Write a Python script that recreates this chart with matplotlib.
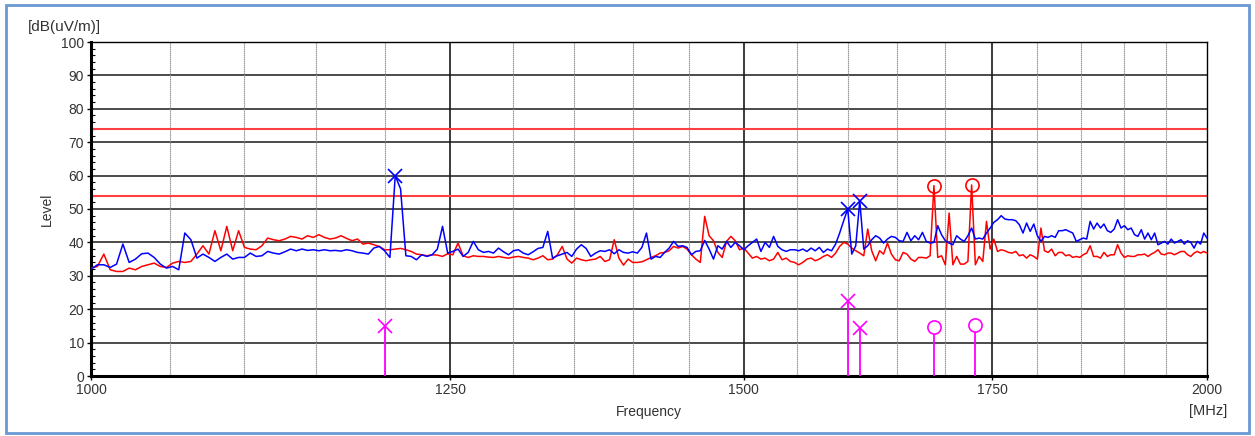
import numpy as np
import matplotlib
matplotlib.use("Agg")
import matplotlib.pyplot as plt
from matplotlib.patches import Rectangle
from matplotlib.ticker import FixedLocator, MultipleLocator, NullFormatter, NullLocator

# sweep grid [MHz]
freq = np.arange(1000, 2001, 4)

# horizontal polarisation sweep [dB(uV/m)]
level_hor = [
    32.0, 33.3, 33.3, 32.5, 33.5,  39.5, 34.0, 35.0, 36.6, 36.8,
    35.5, 33.5, 32.3, 32.8, 31.8,  42.8, 40.8, 35.3, 36.5, 35.5,
    34.3, 35.5, 36.5, 35.0, 35.5,  35.5, 36.8, 35.8, 36.0, 37.3,
    36.8, 36.5, 37.2, 38.0, 37.5,  38.0, 37.6, 37.8, 37.5, 37.8,
    37.5, 37.6, 37.4, 37.8, 37.5,  37.0, 36.8, 36.5, 38.3, 38.8,
    37.5, 35.5, 60.0, 56.0, 36.0,  35.8, 34.8, 36.3, 35.8, 36.3,
    38.0, 44.8, 36.8, 37.3, 38.0,  35.8, 37.0, 40.3, 37.8, 37.0,
    37.3, 36.8, 38.3, 37.2, 36.3,  37.5, 37.8, 36.8, 36.3, 37.2,
    38.2, 38.5, 43.3, 35.3, 36.0,  36.5, 37.0, 35.8, 38.0, 39.3,
    38.2, 35.8, 36.8, 37.5, 37.3,  37.8, 36.6, 37.8, 37.0, 36.8,
    37.2, 36.8, 38.5, 42.8, 35.0,  35.8, 35.5, 37.0, 38.3, 40.3,
    38.8, 39.0, 38.5, 36.3, 37.3,  37.5, 40.6, 38.0, 35.0, 39.0,
    38.0, 40.3, 38.5, 40.0, 39.0,  37.8, 39.0, 40.0, 41.0, 37.3,
    40.0, 38.5, 41.8, 38.8, 37.8,  37.3, 37.8, 37.8, 37.5, 38.0,
    37.3, 38.3, 37.5, 38.5, 37.0,  38.0, 37.5, 39.5, 42.8, 46.5,
    50.0, 36.5, 39.0, 52.5, 38.0,  39.0, 40.8, 42.0, 41.3, 39.8,
    41.0, 41.8, 41.5, 40.5, 40.3,  43.0, 40.5, 42.0, 40.8, 43.0,
    40.3, 39.8, 40.0, 45.0, 42.3,  40.5, 39.8, 39.3, 42.0, 41.0,
    40.3, 42.0, 44.3, 41.0, 41.3,  41.0, 42.8, 44.3, 46.0, 46.8,
    48.0, 47.0, 46.8, 46.8, 46.5,  45.3, 42.8, 45.8, 43.3, 45.5,
    42.0, 40.3, 41.8, 41.5, 42.0,  41.5, 43.5, 43.5, 43.8, 43.3,
    42.8, 40.3, 40.8, 41.3, 41.0,  46.3, 44.0, 45.8, 44.3, 45.5,
    43.5, 43.0, 44.0, 46.8, 44.3,  45.0, 43.8, 44.3, 42.3, 41.8,
    43.8, 41.0, 42.8, 40.8, 42.8,  39.3, 39.8, 40.3, 39.5, 41.0,
    39.8, 40.3, 40.8, 39.5, 40.5,  40.0, 38.3, 40.3, 39.5, 42.8,
    41.3,
]

# vertical polarisation sweep [dB(uV/m)]
level_ver = [
    32.3, 32.8, 36.5, 31.8, 31.3,  31.3, 32.3, 31.8, 32.8, 33.3,
    33.8, 32.8, 32.5, 33.8, 34.3,  34.0, 34.3, 36.5, 39.0, 36.5,
    43.5, 37.5, 44.8, 37.5, 43.5,  38.5, 38.0, 37.8, 39.0, 41.3,
    40.8, 40.5, 41.0, 41.8, 41.5,  41.0, 42.0, 41.5, 42.3, 41.5,
    41.0, 41.3, 42.0, 41.2, 40.5,  41.0, 39.5, 39.8, 39.3, 38.8,
    37.8, 37.8, 38.0, 38.2, 37.8,  37.3, 36.5, 36.3, 36.0, 36.3,
    36.2, 35.8, 36.6, 36.3, 39.8,  36.0, 35.5, 36.0, 35.8, 35.8,
    35.6, 35.5, 35.8, 35.5, 35.3,  35.6, 35.8, 35.5, 35.3, 34.8,
    35.3, 36.0, 34.8, 35.0, 36.3,  38.8, 35.0, 33.8, 35.3, 34.8,
    34.5, 34.8, 35.0, 35.8, 34.3,  34.8, 40.8, 35.3, 33.2, 35.0,
    34.0, 34.0, 34.2, 34.8, 35.5,  36.0, 36.8, 37.0, 37.5, 38.8,
    38.3, 38.8, 38.0, 36.3, 35.0,  34.0, 47.8, 42.0, 40.5, 37.0,
    35.5, 40.3, 41.8, 40.5, 37.8,  38.3, 36.8, 35.3, 35.8, 35.0,
    35.3, 34.5, 35.0, 37.0, 34.8,  35.3, 34.3, 34.0, 33.3, 34.0,
    35.0, 35.3, 34.5, 35.0, 35.8,  36.3, 35.5, 36.8, 38.8, 40.0,
    39.5, 38.3, 37.5, 36.8, 36.0,  44.0, 37.5, 34.5, 37.5, 36.5,
    39.8, 36.5, 34.8, 34.5, 37.0,  36.5, 35.0, 34.3, 35.5, 35.5,
    35.3, 36.0, 57.0, 35.5, 36.0,  33.3, 48.8, 33.3, 35.8, 33.5,
    33.5, 34.3, 57.2, 33.3, 35.8,  34.3, 46.3, 38.0, 41.0, 37.3,
    37.8, 37.5, 37.0, 36.8, 37.3,  36.0, 36.3, 35.3, 36.3, 35.8,
    35.0, 44.3, 37.5, 37.0, 38.0,  36.0, 37.0, 37.0, 36.0, 36.3,
    35.5, 35.8, 35.5, 36.3, 36.8,  39.0, 35.8, 35.8, 35.3, 37.0,
    35.8, 36.3, 36.3, 39.3, 36.8,  35.5, 36.0, 35.8, 35.8, 36.3,
    36.3, 36.5, 35.8, 36.5, 37.0,  37.8, 36.5, 36.3, 36.8, 36.8,
    36.3, 36.8, 37.3, 37.3, 36.3,  35.8, 36.8, 37.3, 36.8, 37.3,
    36.8,
]

# peak markers on the sweeps
pk_hor_freq = [1208, 1600, 1612]
pk_hor_level = [60.0, 50.0, 52.5]
pk_ver_freq = [1688, 1728]
pk_ver_level = [57.0, 57.2]

# final (average) readings
av_hor_freq = [1200, 1600, 1612]
av_hor_level = [15.0, 22.5, 14.5]
av_ver_freq = [1688, 1732]
av_ver_level = [14.8, 15.2]

# limit lines
limit_peak = 74
limit_avg = 54

x_ticks = [1000, 1250, 1500, 1750, 2000]
x_minor = [1050, 1100, 1150, 1200, 1300, 1350, 1400, 1450,
           1550, 1600, 1650, 1700, 1800, 1850, 1900, 1950]

plt.rcParams['font.family'] = ['Liberation Sans', 'DejaVu Sans']

fig = plt.figure(figsize=(12.55, 4.36), dpi=100)
fig.patches.append(Rectangle((6 / 1255, 3 / 436), 1243 / 1255, 428 / 436,
                             transform=fig.transFigure, fill=False,
                             edgecolor='#6a98d4', lw=2))
ax = fig.add_axes([91 / 1255, 60 / 436, 1116 / 1255, 334 / 436])

ax.set_xscale('log')
ax.set_xlim(1000, 2000)
ax.set_ylim(0, 100)

# grid
for y in range(10, 100, 10):
    ax.axhline(y, color='#1a1a1a', lw=1.1, zorder=1)
for x in x_ticks[1:-1]:
    ax.axvline(x, color='#1a1a1a', lw=1.2, zorder=1)
for x in x_minor:
    ax.axvline(x, color='#8a8a8a', lw=0.8, ls=(0, (1.2, 0.6)), zorder=1)

# limits
ax.axhline(limit_peak, color='#ff4040', lw=1.5, zorder=2)
ax.axhline(limit_avg, color='#ff4040', lw=1.5, zorder=2)

# sweeps
ax.plot(freq, level_ver, color='#ff0000', lw=1.1, zorder=3)
ax.plot(freq, level_hor, color='#0000ff', lw=1.1, zorder=4)

# markers
ax.plot(pk_hor_freq, pk_hor_level, 'x', color='#0000ff', ms=10, mew=1.2, zorder=5)
ax.plot(pk_ver_freq, pk_ver_level, 'o', mfc='none', mec='#ff0000', ms=9.5, mew=1.2, zorder=5)
ax.vlines(av_hor_freq + av_ver_freq, 0, av_hor_level + av_ver_level,
          color='#ff00ff', lw=1.3, zorder=5)
ax.plot(av_hor_freq, av_hor_level, 'x', color='#ff00ff', ms=10, mew=1.2, zorder=6)
ax.plot(av_ver_freq, av_ver_level, 'o', mfc='white', mec='#ff00ff', ms=9.5, mew=1.2, zorder=6)

# axes styling
ax.xaxis.set_major_locator(FixedLocator(x_ticks))
ax.xaxis.set_minor_locator(NullLocator())
ax.xaxis.set_minor_formatter(NullFormatter())
ax.set_xticklabels([str(v) for v in x_ticks])
ax.yaxis.set_major_locator(MultipleLocator(10))
ax.yaxis.set_minor_locator(MultipleLocator(2))
ax.tick_params(axis='both', which='major', direction='out', length=3, width=1,
               labelsize=10, labelcolor='#333333', pad=2)
ax.tick_params(axis='y', which='minor', direction='in', length=3, width=0.8)
for side in ['left', 'bottom']:
    ax.spines[side].set_linewidth(2.2)
for side in ['top', 'right']:
    ax.spines[side].set_linewidth(1.0)

ax.set_xlabel('Frequency', fontsize=10, color='#333333', labelpad=6)
ax.set_ylabel('Level', fontsize=10, color='#333333', labelpad=5)
fig.text(28 / 1255, 1 - 27 / 436, '[dB(uV/m)]', fontsize=11, color='#333333', va='center')
fig.text(1208 / 1255, 1 - 411 / 436, '[MHz]', fontsize=10.5, color='#333333',
         va='center', ha='center')

fig.savefig('out.png', dpi=100)
